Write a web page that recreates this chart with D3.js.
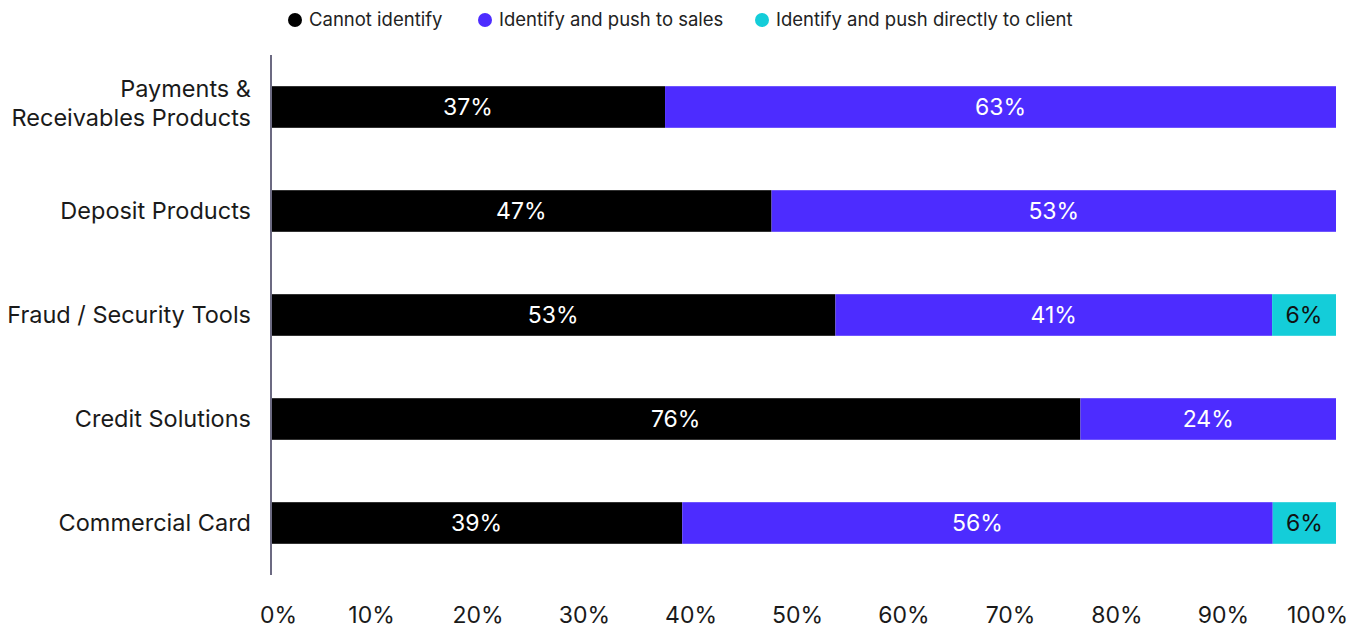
<!DOCTYPE html>
<html>
<head>
<meta charset="utf-8">
<script src="https://cdn.jsdelivr.net/npm/d3@7"></script>
<style>
  html, body { margin: 0; padding: 0; background: #fff; }
  svg { display: block; font-family: Inter, "DejaVu Sans", sans-serif; }
</style>
</head>
<body>
<svg id="chart" width="1364" height="630"></svg>
<script>
// Product areas (rows) and the share of answers for each response
const categories = [
  ["Payments &", "Receivables Products"],
  ["Deposit Products"],
  ["Fraud / Security Tools"],
  ["Credit Solutions"],
  ["Commercial Card"]
];
const seriesNames = ["Cannot identify", "Identify and push to sales", "Identify and push directly to client"];
const cannotIdentify = [37, 47, 53, 76, 39];
const pushToSales    = [63, 53, 41, 24, 56];
const pushToClient   = [0, 0, 6, 0, 6];
const tickValues = [0, 10, 20, 30, 40, 50, 60, 70, 80, 90, 100];
const colors = ["#000000", "#4d2cff", "#14cdd9"];
const labelColors = ["#ffffff", "#ffffff", "#111111"];

const svg = d3.select("#chart");
const keys = ["a", "b", "c"];
const rows = categories.map((c, i) => ({
  idx: i, a: cannotIdentify[i], b: pushToSales[i], c: pushToClient[i]
}));

// each row is scaled to fill the full width
const stacked = d3.stack().keys(keys).offset(d3.stackOffsetExpand)(rows);

const x = d3.scaleLinear().domain([0, 1]).range([271, 1336]);
const y = d3.scaleBand().domain(d3.range(categories.length)).range([55, 575])
  .paddingInner(0.6).paddingOuter(0.3);

// bars
const layers = svg.append("g").selectAll("g").data(stacked).join("g")
  .attr("fill", (d, i) => colors[i]);
layers.selectAll("rect").data(d => d).join("rect")
  .attr("x", d => x(d[0]))
  .attr("y", d => y(d.data.idx))
  .attr("width", d => Math.max(0, x(d[1]) - x(d[0])))
  .attr("height", y.bandwidth());

// value labels
const vals = [cannotIdentify, pushToSales, pushToClient];
stacked.forEach((layer, li) => {
  svg.append("g").selectAll("text").data(layer.filter(d => vals[li][d.data.idx] > 0)).join("text")
    .attr("x", d => (x(d[0]) + x(d[1])) / 2)
    .attr("y", d => y(d.data.idx) + y.bandwidth() / 2)
    .attr("dy", "0.35em")
    .attr("text-anchor", "middle")
    .attr("fill", labelColors[li])
    .attr("font-size", 23)
    .text(d => vals[li][d.data.idx] + "%");
});

// category axis line and labels
svg.append("line")
  .attr("x1", x(0)).attr("x2", x(0))
  .attr("y1", y.range()[0]).attr("y2", y.range()[1])
  .attr("stroke", "#6c6a82").attr("stroke-width", 2);

const catFont = 23.5;
const catLabels = svg.append("g").selectAll("text").data(categories).join("text")
  .attr("x", 251)
  .attr("y", (d, i) => y(i) + y.bandwidth() / 2 - (d.length > 1 ? 4 : 0))
  .attr("text-anchor", "end")
  .attr("fill", "#1a1a1a")
  .attr("font-size", catFont);
catLabels.each(function (lines) {
  const t = d3.select(this);
  const lh = 29;
  lines.forEach((ln, k) => {
    t.append("tspan")
      .attr("x", 251)
      .attr("dy", k === 0 ? (0.35 - (lines.length - 1) * 0.5 * lh / catFont) + "em" : lh)
      .text(ln);
  });
});

// percent axis at the bottom
const xAxis = d3.axisBottom(d3.scaleLinear().domain([0, 100]).range(x.range()))
  .tickValues(tickValues).tickSize(0).tickFormat(d => d + "%");
const ax = svg.append("g").attr("transform", "translate(0,604)").call(xAxis);
ax.select(".domain").remove();
ax.selectAll("text")
  .attr("font-size", 23)
  .attr("font-family", "Inter, sans-serif")
  .attr("fill", "#1a1a1a")
  .attr("dx", (d, i) => i === 0 ? 7 : (i === tickValues.length - 1 ? -19 : -6.5));

// legend
const legendX = [295, 485, 762];
const lg = svg.append("g").selectAll("g").data(seriesNames).join("g")
  .attr("transform", (d, i) => `translate(${legendX[i]},20)`);
lg.append("circle").attr("r", 7).attr("fill", (d, i) => colors[i]);
lg.append("text").attr("x", 14).attr("dy", "0.35em")
  .attr("font-size", 18.5).attr("fill", "#222").text(d => d);
</script>
</body>
</html>
